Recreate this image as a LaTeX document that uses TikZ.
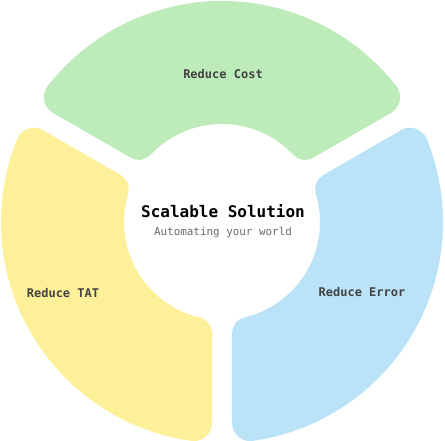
\documentclass[tikz,border=0pt]{standalone}
\usepackage{fontspec}
\setmonofont{DejaVu Sans Mono}
\definecolor{costgreen}{HTML}{BDEBB9}
\definecolor{tatyellow}{HTML}{FEF098}
\definecolor{errblue}{HTML}{BAE3F7}
\definecolor{labelgray}{HTML}{424242}
\definecolor{subgray}{HTML}{6A6A6A}
\tikzset{
  seglabel/.style={font=\ttfamily\bfseries\fontsize{12}{14}\selectfont, text=labelgray, inner sep=0pt},
}
% Ring geometry in units of 10pt (keeps pgfmath squares small):
% outer/inner radius, half gap, outer/inner fillet radius
\def\Ro{22.1}
\def\Ri{9.8}
\def\gh{1.0}
\def\ro{1.8}
\def\ri{1.6}
% \ringsegment{from angle}{to angle}{colour}: annular sector with
% parallel-sided gaps and filleted corners
\newcommand\ringsegment[3]{%
  \pgfmathsetmacro\pOa{#1+asin((\gh+\ro)/(\Ro-\ro))}%
  \pgfmathsetmacro\pOb{#2-asin((\gh+\ro)/(\Ro-\ro))}%
  \pgfmathsetmacro\pIa{#1+asin((\gh+\ri)/(\Ri+\ri))}%
  \pgfmathsetmacro\pIb{#2-asin((\gh+\ri)/(\Ri+\ri))}%
  \pgfmathsetmacro\tO{sqrt((\Ro-\ro)^2-(\gh+\ro)^2)}%
  \pgfmathsetmacro\tI{sqrt((\Ri+\ri)^2-(\gh+\ri)^2)}%
  \pgfmathsetmacro\dO{10*sqrt(\tO^2+\gh^2)}%
  \pgfmathsetmacro\aO{atan(\gh/\tO)}%
  \pgfmathsetmacro\dI{10*sqrt(\tI^2+\gh^2)}%
  \pgfmathsetmacro\aI{atan(\gh/\tI)}%
  \pgfmathsetmacro\RoP{10*\Ro}%
  \pgfmathsetmacro\RiP{10*\Ri}%
  \pgfmathsetmacro\roP{10*\ro}%
  \pgfmathsetmacro\riP{10*\ri}%
  \fill[#3] (\pIa:\RiP pt)
    arc[start angle=\pIa+180, end angle=#1+270, radius=\riP pt]
    -- (#1+\aO:\dO pt)
    arc[start angle=#1-90, end angle=\pOa, radius=\roP pt]
    arc[start angle=\pOa, end angle=\pOb, radius=\RoP pt]
    arc[start angle=\pOb, end angle=#2+90, radius=\roP pt]
    -- (#2-\aI:\dI pt)
    arc[start angle=#2+90, end angle=\pIb+180, radius=\riP pt]
    arc[start angle=\pIb, end angle=\pIa, radius=\RiP pt] -- cycle;
}
\begin{document}
\begin{tikzpicture}
\useasboundingbox (0,0) rectangle (445pt,441pt);
\begin{scope}[shift={(222pt,219pt)}]
  \ringsegment{30}{150}{costgreen}
  \ringsegment{150}{270}{tatyellow}
  \ringsegment{-90}{30}{errblue}
\end{scope}
\node[font=\ttfamily\bfseries\fontsize{16}{18}\selectfont, inner sep=0pt] (title) at (223pt,230pt) {Scalable Solution};
\node[font=\ttfamily\fontsize{10.9}{12}\selectfont, text=subgray, inner sep=0pt] (subtitle) at (223pt,208pt) {Automating your world};
\node[seglabel] (cost) at (223pt,367pt) {Reduce Cost};
\node[seglabel] (tat) at (63pt,148pt) {Reduce TAT};
\node[seglabel] (err) at (362pt,149pt) {Reduce Error};
\end{tikzpicture}
\end{document}
